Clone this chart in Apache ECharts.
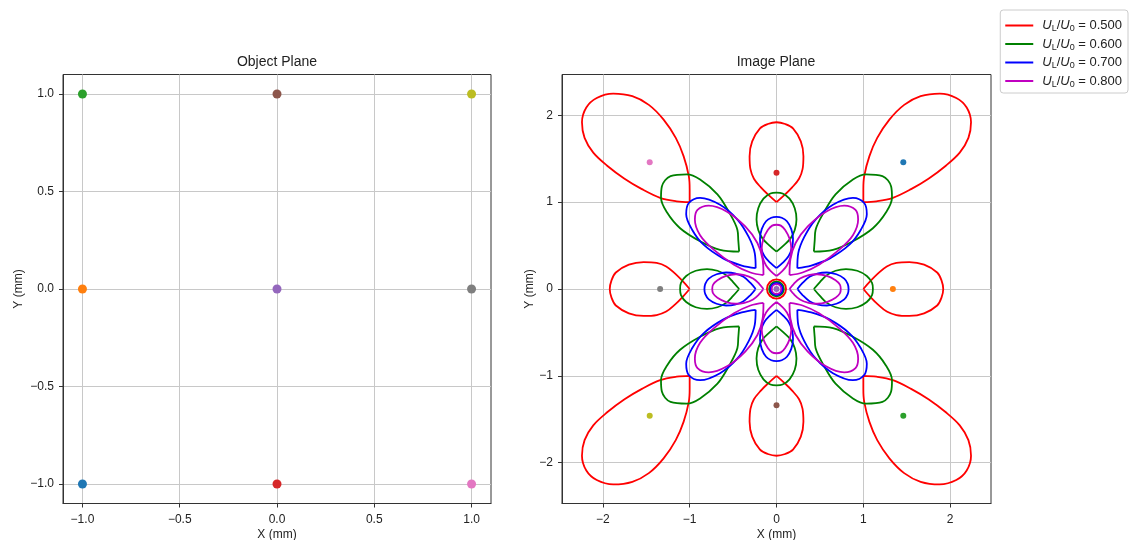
<!DOCTYPE html>
<html>
<head>
<meta charset="utf-8">
<script src="https://cdn.jsdelivr.net/npm/echarts@6/dist/echarts.min.js"></script>
<style>html,body{margin:0;padding:0;background:#fff}#c{width:1129px;height:540px}</style>
</head>
<body>
<div id="c"></div>
<script>
// ---- data ----
const ratioLabels = ['0.500', '0.600', '0.700', '0.800'];
const curveColors = ['#ff0000', '#008000', '#0000ff', '#c000c0'];
const pointColors = ['#1f77b4', '#ff7f0e', '#2ca02c', '#d62728', '#9467bd', '#8c564b', '#e377c2', '#7f7f7f', '#bcbd22'];

const objX = [-1, -1, -1, 0, 0, 0, 1, 1, 1];
const objY = [-1, 0, 1, -1, 0, 1, -1, 0, 1];
const imgX = [1.46, 1.34, 1.46, 0, 0, 0, -1.46, -1.34, -1.46];
const imgY = [1.46, 0, -1.46, 1.34, 0, -1.34, 1.46, 0, -1.46];

const objTicks = [-1.0, -0.5, 0.0, 0.5, 1.0];
const imgTicks = [-2, -1, 0, 1, 2];

// top-left corner lobes (cusp first)
const redCorner = [[-1.00,1.00],[-1.00,1.15],[-1.01,1.30],[-1.07,1.53],[-1.16,1.74],[-1.30,1.95],[-1.47,2.12],[-1.66,2.22],[-1.88,2.25],[-2.07,2.20],[-2.19,2.09],[-2.24,1.92],[-2.21,1.74],[-2.11,1.57],[-1.95,1.42],[-1.75,1.27],[-1.55,1.15],[-1.34,1.05],[-1.15,1.01],[-1.00,1.00]];
const greenCorner = [[-0.43,0.43],[-0.44,0.56],[-0.45,0.68],[-0.55,0.89],[-0.68,1.09],[-0.88,1.26],[-1.03,1.32],[-1.22,1.30],[-1.32,1.18],[-1.33,1.05],[-1.26,0.88],[-1.11,0.70],[-0.88,0.55],[-0.65,0.45],[-0.43,0.43]];
const blueCorner = [[-0.24,0.24],[-0.25,0.41],[-0.32,0.60],[-0.45,0.80],[-0.65,0.97],[-0.88,1.05],[-1.01,0.99],[-1.04,0.86],[-0.97,0.68],[-0.84,0.51],[-0.61,0.35],[-0.40,0.27],[-0.24,0.24]];
const magentaCorner = [[-0.15,0.16],[-0.16,0.34],[-0.22,0.53],[-0.36,0.72],[-0.57,0.89],[-0.78,0.96],[-0.91,0.91],[-0.94,0.80],[-0.88,0.62],[-0.72,0.45],[-0.49,0.28],[-0.30,0.19],[-0.15,0.16]];

// top edge lobes (cusp first)
const redEdge = [[0,1.00],[0.09,1.08],[0.18,1.17],[0.26,1.27],[0.30,1.38],[0.31,1.53],[0.28,1.70],[0.19,1.85],[0.10,1.90],[0,1.92],[-0.10,1.90],[-0.19,1.85],[-0.28,1.70],[-0.31,1.53],[-0.30,1.38],[-0.26,1.27],[-0.18,1.17],[-0.09,1.08],[0,1.00]];
const greenEdge = [[0,0.43],[0.08,0.50],[0.16,0.58],[0.21,0.68],[0.23,0.80],[0.21,0.93],[0.15,1.04],[0.07,1.10],[0,1.11],[-0.07,1.10],[-0.15,1.04],[-0.21,0.93],[-0.23,0.80],[-0.21,0.68],[-0.16,0.58],[-0.08,0.50],[0,0.43]];
const blueEdge = [[0,0.24],[0.07,0.30],[0.14,0.38],[0.18,0.48],[0.19,0.58],[0.17,0.69],[0.12,0.78],[0.06,0.82],[0,0.83],[-0.06,0.82],[-0.12,0.78],[-0.17,0.69],[-0.19,0.58],[-0.18,0.48],[-0.14,0.38],[-0.07,0.30],[0,0.24]];
const magentaEdge = [[0,0.15],[0.06,0.20],[0.12,0.27],[0.16,0.37],[0.17,0.47],[0.15,0.58],[0.10,0.68],[0.05,0.73],[0,0.74],[-0.05,0.73],[-0.10,0.68],[-0.15,0.58],[-0.17,0.47],[-0.16,0.37],[-0.12,0.27],[-0.06,0.20],[0,0.15]];

const ringRadius = [0.11, 0.085, 0.07, 0.055];

const cornerLobes = [redCorner, greenCorner, blueCorner, magentaCorner];
const edgeLobes = [redEdge, greenEdge, blueEdge, magentaEdge];

// ---- build ----
const FONT = '"Liberation Sans", Arial, Helvetica, sans-serif';
const minus = v => (v < 0 ? '\u2212' : '');
const fmt1 = v => minus(v) + Math.abs(v).toFixed(1);
const fmt0 = v => minus(v) + Math.abs(v).toFixed(0);

function mirrorsCorner(l) {
  return [l, l.map(p => [-p[0], p[1]]), l.map(p => [p[0], -p[1]]), l.map(p => [-p[0], -p[1]])];
}
function mirrorsEdge(l) {
  return [l, l.map(p => [p[0], -p[1]]), l.map(p => [p[1], p[0]]), l.map(p => [-p[1], p[0]])];
}

const names = ratioLabels.map(r => 'U_L/U_0 = ' + r);
const series = [];
for (let i = 0; i < 4; i++) {
  const lobes = mirrorsCorner(cornerLobes[i]).concat(mirrorsEdge(edgeLobes[i]));
  lobes.forEach(d => {
    series.push({
      type: 'line', name: names[i], xAxisIndex: 1, yAxisIndex: 1,
      data: d, symbol: 'none', showSymbol: false, smooth: 0.35,
      lineStyle: { color: curveColors[i], width: 1.8 },
      itemStyle: { color: curveColors[i] },
      z: 3 + i, animation: false, silent: true
    });
  });
}
for (let i = 0; i < 4; i++) {
  series.push({
    type: 'custom', name: names[i], xAxisIndex: 1, yAxisIndex: 1,
    data: [[0, 0, ringRadius[i]]], z: 3 + i, animation: false, silent: true,
    renderItem: (params, api) => {
      const c = api.coord([api.value(0), api.value(1)]);
      const r = api.size([api.value(2), 0])[0];
      return { type: 'circle', shape: { cx: c[0], cy: c[1], r: r },
               style: { fill: 'none', stroke: curveColors[i], lineWidth: 1.8 } };
    }
  });
}
series.push({
  type: 'scatter', xAxisIndex: 0, yAxisIndex: 0, symbolSize: 9, z: 10, animation: false,
  data: objX.map((x, k) => ({ value: [x, objY[k]], itemStyle: { color: pointColors[k], opacity: 1 } }))
});
series.push({
  type: 'scatter', xAxisIndex: 1, yAxisIndex: 1, symbolSize: 6, z: 10, animation: false,
  data: imgX.map((x, k) => ({ value: [x, imgY[k]], itemStyle: { color: pointColors[k], opacity: 1 } }))
});

const axisCommon = (ticks, fmt, margin) => ({
  type: 'value',
  axisLine: { show: true, onZero: false, lineStyle: { color: '#333', width: 1 } },
  axisTick: { show: true, inside: false, length: 4, customValues: ticks, lineStyle: { color: '#333' } },
  axisLabel: { customValues: ticks, formatter: fmt, color: '#222', fontSize: 12, fontFamily: FONT, margin: margin },
  splitLine: { show: true, lineStyle: { color: '#c8c8c8', width: 1 } },
  nameLocation: 'middle',
  nameMoveOverlap: false,
  nameTextStyle: { color: '#222', fontSize: 12, fontFamily: FONT }
});

const option = {
  animation: false,
  backgroundColor: '#fff',
  textStyle: { fontFamily: FONT },
  title: [
    { text: 'Object Plane', left: 277, top: 55, textAlign: 'center', padding: 0,
      textStyle: { fontSize: 14, fontWeight: 'normal', color: '#222', fontFamily: FONT } },
    { text: 'Image Plane', left: 776, top: 55, textAlign: 'center', padding: 0,
      textStyle: { fontSize: 14, fontWeight: 'normal', color: '#222', fontFamily: FONT } }
  ],
  grid: [
    { left: 63, top: 74.5, width: 428, height: 429, show: true, borderColor: '#333', borderWidth: 1,
      containLabel: false, outerBoundsMode: 'none' },
    { left: 562, top: 74.5, width: 429, height: 429, show: true, borderColor: '#333', borderWidth: 1,
      containLabel: false, outerBoundsMode: 'none' }
  ],
  xAxis: [
    Object.assign(axisCommon(objTicks, fmt1, 10), { gridIndex: 0, min: -1.1, max: 1.1, name: 'X (mm)', nameGap: 25 }),
    Object.assign(axisCommon(imgTicks, fmt0, 10), { gridIndex: 1, min: -2.47, max: 2.47, name: 'X (mm)', nameGap: 25 })
  ],
  yAxis: [
    Object.assign(axisCommon(objTicks, fmt1, 9), { gridIndex: 0, min: -1.1, max: 1.1, name: 'Y (mm)', nameGap: 38 }),
    Object.assign(axisCommon(imgTicks, fmt0, 9), { gridIndex: 1, min: -2.47, max: 2.47, name: 'Y (mm)', nameGap: 26 })
  ],
  legend: {
    data: names.map(n => ({ name: n, icon: 'rect' })),
    orient: 'vertical', right: 1, top: 10,
    backgroundColor: '#fff', borderColor: '#ccc', borderWidth: 1, borderRadius: 3,
    padding: [9, 6, 4, 5], itemGap: 4, itemWidth: 28, itemHeight: 2,
    formatter: name => {
      const v = name.split('= ')[1];
      return '{i|U}{s|L}{t|/}{i|U}{s|0}{t| = ' + v + '}';
    },
    textStyle: {
      fontSize: 13, color: '#222', fontFamily: FONT, padding: [0, 0, 0, 4],
      rich: {
        i: { fontStyle: 'italic', fontSize: 13, fontFamily: FONT, lineHeight: 16, verticalAlign: 'middle' },
        s: { fontSize: 9, fontFamily: FONT, lineHeight: 16, verticalAlign: 'bottom', padding: [5, 0, 0, 0] },
        t: { fontSize: 13, fontFamily: FONT, lineHeight: 16, verticalAlign: 'middle' }
      }
    }
  },
  series: series
};

const chart = echarts.init(document.getElementById('c'), null, { renderer: 'canvas' });
chart.setOption(option);
</script>
</body>
</html>
